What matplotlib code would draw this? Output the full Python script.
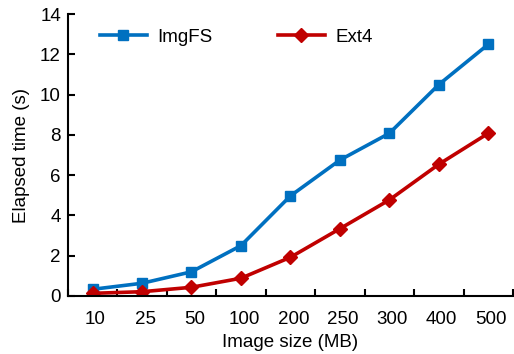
import matplotlib
matplotlib.use("Agg")
import matplotlib.pyplot as plt
import numpy as np

categories = ["10", "25", "50", "100", "200", "250", "300", "400", "500"]
imgfs = [0.33, 0.63, 1.2, 2.5, 4.97, 6.75, 8.08, 10.5, 12.5]
ext4 = [0.13, 0.21, 0.43, 0.88, 1.92, 3.34, 4.77, 6.54, 8.08]

plt.rcParams['font.family'] = ['Liberation Sans', 'DejaVu Sans']
plt.rcParams['font.size'] = 13.5

fig = plt.figure(figsize=(5.14, 3.54), dpi=100)
ax = fig.add_axes([0.132, 0.164, 0.866, 0.796])

x = np.arange(len(categories))
ax.plot(x, imgfs, color='#0070C0', lw=2.6, marker='s', ms=6.5, label='ImgFS')
ax.plot(x, ext4, color='#C00000', lw=2.6, marker='D', ms=7, label='Ext4')

ax.set_xlim(-0.5, len(categories) - 0.5)
ax.set_ylim(0, 14)
ax.set_yticks(np.arange(0, 15, 2))
ax.set_xticks(np.arange(-0.5, len(categories), 1.0))
ax.set_xticklabels([])
ax.set_xticks(x + 0.06, minor=True)
ax.set_xticklabels(categories, minor=True)
ax.tick_params(axis='x', which='major', direction='in', length=5, width=1.5)
ax.tick_params(axis='x', which='minor', length=0, pad=11)
ax.tick_params(axis='y', direction='in', length=5, width=1.5, pad=5)

for s in ['top', 'right']:
    ax.spines[s].set_visible(False)
for s in ['left', 'bottom']:
    ax.spines[s].set_linewidth(1.5)

ax.set_xlabel('Image size (MB)', labelpad=4)
ax.set_ylabel('Elapsed time (s)', labelpad=7)

ax.legend(loc='upper left', ncol=2, frameon=False, bbox_to_anchor=(0.034, 1.008),
          handlelength=2.5, columnspacing=3.5, handletextpad=0.55)

fig.savefig('out.png', dpi=100)
